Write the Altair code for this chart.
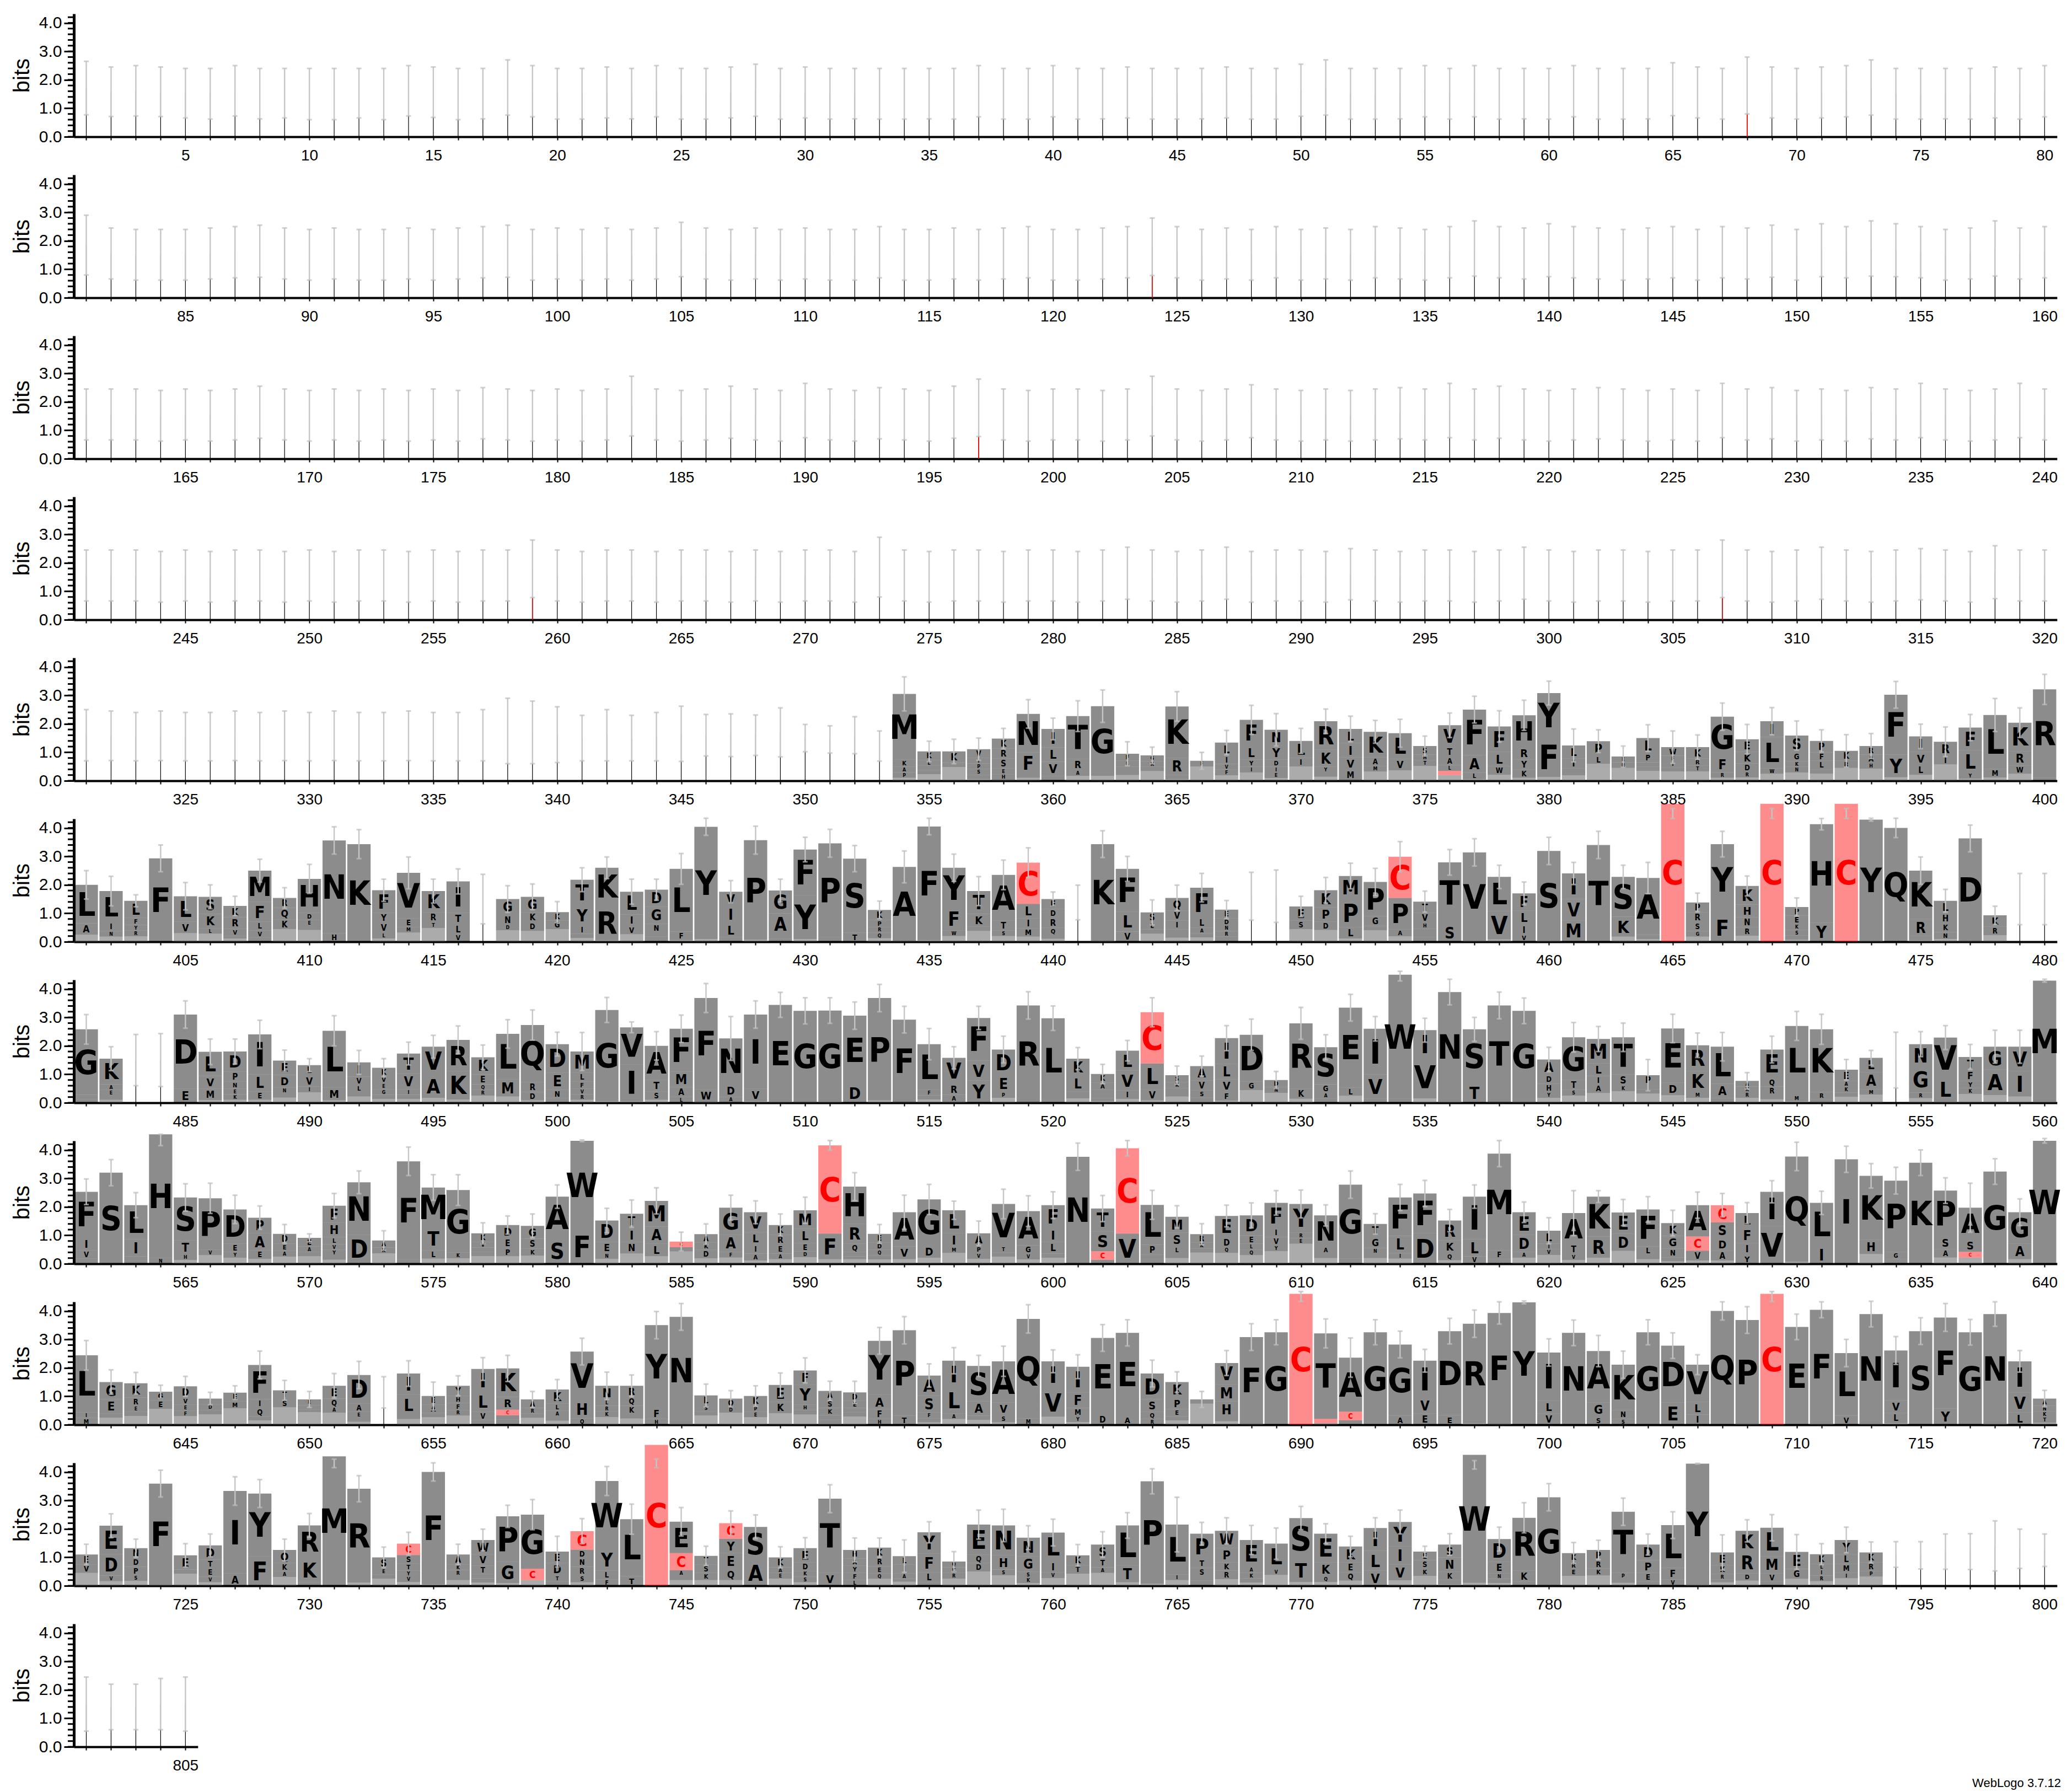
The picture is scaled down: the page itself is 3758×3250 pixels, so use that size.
import altair as alt
import pandas as pd

# ---------------- data ----------------
# positions 1-320: almost-empty columns (thin stacks) -> upper / lower error-bar ends
HI_1 = [2.65,2.45,2.5,2.45,2.4,2.4,2.5,2.4,2.4,2.4, 2.4,2.4,2.4,2.5,2.45,2.4,2.4,2.7,2.5,2.4,
        2.4,2.45,2.4,2.5,2.4,2.4,2.45,2.55,2.4,2.45, 2.4,2.4,2.4,2.4,2.4,2.4,2.5,2.4,2.4,2.5,
        2.4,2.4,2.45,2.4,2.4,2.4,2.45,2.4,2.4,2.55, 2.7,2.4,2.4,2.4,2.5,2.4,2.5,2.4,2.4,2.4,
        2.5,2.4,2.4,2.4,2.6,2.45,2.4,2.8,2.45,2.4, 2.45,2.5,2.7,2.4,2.4,2.4,2.4,2.45,2.4,2.5]
LO_1 = [0.77,0.71,0.73,0.71,0.66,0.62,0.73,0.63,0.66,0.6, 0.6,0.66,0.6,0.73,0.68,0.6,0.63,0.76,0.7,0.62,
        0.62,0.66,0.63,0.7,0.62,0.62,0.66,0.72,0.62,0.66, 0.62,0.63,0.62,0.62,0.63,0.62,0.7,0.62,0.62,0.7,
        0.62,0.63,0.66,0.62,0.62,0.63,0.66,0.62,0.62,0.72, 0.76,0.62,0.62,0.63,0.7,0.62,0.7,0.62,0.63,0.62,
        0.7,0.62,0.62,0.63,0.74,0.66,0.62,0.8,0.66,0.62, 0.66,0.7,0.76,0.62,0.62,0.63,0.62,0.66,0.62,0.7]
HI_2 = [2.9,2.45,2.4,2.4,2.4,2.45,2.5,2.55,2.45,2.4, 2.45,2.4,2.4,2.45,2.4,2.45,2.5,2.55,2.4,2.45,
        2.4,2.45,2.4,2.45,2.65,2.45,2.4,2.45,2.4,2.45, 2.4,2.4,2.5,2.4,2.4,2.45,2.4,2.45,2.5,2.4,
        2.4,2.45,2.5,2.8,2.5,2.4,2.45,2.4,2.5,2.4, 2.45,2.4,2.5,2.45,2.4,2.5,2.7,2.5,2.45,2.6,
        2.5,2.45,2.4,2.45,2.5,2.4,2.5,2.45,2.55,2.4, 2.6,2.5,2.7,2.6,2.5,2.4,2.45,2.7,2.45,2.5]
LO_2 = [0.8,0.66,0.62,0.62,0.62,0.66,0.7,0.72,0.66,0.62, 0.66,0.62,0.62,0.66,0.62,0.66,0.7,0.72,0.62,0.66,
        0.62,0.66,0.62,0.66,0.74,0.66,0.62,0.66,0.62,0.66, 0.62,0.62,0.7,0.62,0.62,0.66,0.62,0.66,0.7,0.62,
        0.62,0.66,0.7,0.78,0.7,0.62,0.66,0.62,0.7,0.62, 0.66,0.62,0.7,0.66,0.62,0.7,0.76,0.7,0.66,0.74,
        0.7,0.66,0.62,0.66,0.7,0.62,0.7,0.66,0.72,0.62, 0.74,0.7,0.76,0.74,0.7,0.62,0.66,0.76,0.66,0.7]
HI_3 = [2.45,2.45,2.45,2.4,2.45,2.4,2.45,2.55,2.45,2.4, 2.45,2.4,2.45,2.4,2.45,2.4,2.5,2.45,2.4,2.45,
        2.4,2.45,2.9,2.45,2.4,2.45,2.55,2.45,2.4,2.65, 2.45,2.4,2.5,2.45,2.4,2.55,2.8,2.45,2.4,2.45,
        2.45,2.4,2.45,2.9,2.45,2.4,2.45,2.6,2.45,2.4, 2.45,2.4,2.45,2.5,2.45,2.65,2.45,2.55,2.45,2.4,
        2.45,2.5,2.45,2.4,2.45,2.4,2.65,2.45,2.5,2.4, 2.45,2.4,2.5,2.45,2.65,2.45,2.4,2.45,2.65,2.45]
LO_3 = [0.66,0.66,0.66,0.62,0.66,0.62,0.66,0.72,0.66,0.62, 0.66,0.62,0.66,0.62,0.66,0.62,0.7,0.66,0.62,0.66,
        0.62,0.66,0.8,0.66,0.62,0.66,0.72,0.66,0.62,0.74, 0.66,0.62,0.7,0.66,0.62,0.72,0.78,0.66,0.62,0.66,
        0.66,0.62,0.66,0.8,0.66,0.62,0.66,0.74,0.66,0.62, 0.66,0.62,0.66,0.7,0.66,0.74,0.66,0.72,0.66,0.62,
        0.66,0.7,0.66,0.62,0.66,0.62,0.74,0.66,0.7,0.62, 0.66,0.62,0.7,0.66,0.74,0.66,0.62,0.66,0.74,0.66]
HI_4 = [2.45,2.45,2.45,2.4,2.45,2.4,2.45,2.45,2.4,2.45, 2.4,2.45,2.45,2.4,2.45,2.4,2.45,2.45,2.8,2.45,
        2.4,2.45,2.45,2.4,2.45,2.45,2.4,2.45,2.4,2.45, 2.45,2.4,2.9,2.45,2.4,2.45,2.45,2.4,2.45,2.45,
        2.4,2.45,2.55,2.45,2.4,2.45,2.55,2.4,2.45,2.45, 2.4,2.5,2.45,2.4,2.45,2.45,2.4,2.45,2.55,2.45,
        2.4,2.45,2.45,2.4,2.45,2.45,2.8,2.45,2.4,2.45, 2.55,2.45,2.4,2.45,2.5,2.45,2.4,2.6,2.45,2.45]
LO_4 = [0.66,0.66,0.66,0.62,0.66,0.62,0.66,0.66,0.62,0.66, 0.62,0.66,0.66,0.62,0.66,0.62,0.66,0.66,0.78,0.66,
        0.62,0.66,0.66,0.62,0.66,0.66,0.62,0.66,0.62,0.66, 0.66,0.62,0.8,0.66,0.62,0.66,0.66,0.62,0.66,0.66,
        0.62,0.66,0.72,0.66,0.62,0.66,0.72,0.62,0.66,0.66, 0.62,0.7,0.66,0.62,0.66,0.66,0.62,0.66,0.72,0.66,
        0.62,0.66,0.66,0.62,0.66,0.66,0.78,0.66,0.62,0.66, 0.72,0.66,0.62,0.66,0.7,0.66,0.62,0.74,0.66,0.66]
RED_THIN = {68: 0.9, 124: 0.85, 197: 0.85, 259: 0.8, 307: 0.8}

# positions 321-805: "letter height ..." (top to bottom, ~ = small mixed letters) / error top[,error bottom]
# "t<h>" = near-empty column drawn as a thin stack
LOGO_5 = [  # 321
 "t1.6/2.5","t1.58/2.45","t1.55/2.4","t1.58/2.45","t1.55/2.4","t1.55/2.4","t1.58/2.45","t1.55/2.4","t1.58/2.45","t1.55/2.4",
 "t1.58/2.45","t1.55/2.4","t1.55/2.4","t1.58/2.45","t1.55/2.4","t1.55/2.4","t1.6/2.5","t1.75/2.9","t1.7/2.8","t1.62/2.6",
 "t1.5/2.3","t1.6/2.5","t1.5/2.3","t1.55/2.4","t1.65/2.62","t1.6/2.33","t1.6/2.35","t1.6/2.31","t1.7/2.56","t1.5/1.98",
 # 351
 "t1.45/1.93","t1.6/2.25","t1.22/1.75","M2.3 K.25 A.2 P.2 ~.1/3.65","K.3 L.2 I.15 N.15 ~.23/1.39",
 "K.4 N.15 ~.48/1.46","V.3 I.2 P.2 S.2 T.15 ~.06/1.5","K.35 R.35 S.35 E.2 H.2 ~.03/1.84","N1.35 F.75 Y.15 ~.1/2.85","I.65 L.5 V.5 M.17/2.2",
 # 361
 "T1.5 R.4 A.2 ~.17/2.81","G2.45 ~.17/3.19","F.25 L.2 A.15 R.15 ~.2/1.37","G.2 R.2 A.15 ~.34/1.18","K1.8 R.6 Q.15 ~.06/3.13",
 "F.2 ~.5/1.0","L.45 I.3 V.2 F.2 ~.19/1.77","F.9 L.5 Y.25 I.2 ~.29/2.65","N.55 Y.5 D.25 I.2 E.2 ~.09/2.36","L.6 I.3 ~.5/1.84",
 # 371
 "R1.0 K.6 Y.2 W.15 ~.14/2.52","L.5 I.5 V.45 M.35 ~.02/2.27","K.9 A.3 M.2 ~.32/2.12","L.9 V.4 ~.37/2.16","S.3 H.2 T.2 ~.52/1.57",
 "V.75 T.35 A.3 L.2 C.15 ~.2/2.38","F1.6 A.6 L.25 ~.05/2.97","F.9 L.5 W.3 ~.21/2.46","H1.1 R.45 Y.35 K.3 ~.1/2.83","Y1.55 F1.4 ~.13/3.5",
 # 381
 "L.45 I.35 A.15 T.1 ~.19/1.82","P.5 L.3 ~.59/1.79","E.2 R.2 ~.45/1.22","L.55 P.3 V.15 M.15 ~.35/1.97","W.3 F.2 I.2 V.15 ~.33/1.75",
 "K.4 R.25 T.2 ~.33/1.61","G1.4 F.55 R.2 ~.1/2.73","E.45 K.4 D.3 R.2 ~.11/1.98","I.55 L1.1 W.2 ~.24/2.57","S.6 G.3 K.2 N.2 ~.29/2.1",
 # 391
 "P.4 F.3 L.3 T.15 ~.25/1.79","K.35 R.25 ~.45/1.62","R.3 A.3 H.2 ~.42/1.66","F2.1 Y.8 ~.12/3.49","I.55 V.45 L.35 ~.21/1.99",
 "R.5 I.3 ~.57/1.89","F.8 L.8 Y.2 ~.07/2.33","L1.9 M.3 ~.11/2.89","K1.0 R.5 W.3 ~.24/2.56","R3.1 K.11/3.74",
]
LOGO_6 = [  # 401
 "L1.35 A.4 ~.25/2.5","L1.1 I.3 N.2 ~.18/2.3","L.6 F.25 Y.2 R.2 ~.19/1.65","F2.93/3.4","L.9 V.4 ~.3/2.08",
 "S.6 K.5 L.2 ~.28/2.0","K.4 R.4 V.25 I.1 ~.11/1.6","M1.1 F.7 L.3 V.25 I.15/2.9","R.35 Q.4 K.35 ~.44/1.9","H1.2 D.25 E.2 R.15 ~.41/2.72",
 # 411
 "N3.26 H.3/4.04","K3.43/3.94","F.8 Y.35 V.35 L.2 ~.11/2.2","V1.6 E.3 M.2 ~.32/2.98","K.75 R.35 T.2 ~.48/2.2",
 "I1.1 T.4 L.35 V.27/2.56","t1.5/2.37","G.55 N.35 D.2 ~.4/1.97","G.55 K.35 D.3 ~.38/2.03","K.3 G.3 ~.44/1.41",
 # 421
 "T.9 Y.7 I.3 W.15 ~.13/2.6","K1.3 R1.25 ~.05/2.98","L.8 I.4 V.3 ~.26/2.2","D.6 G.6 N.3 Q.15 H.18/2.2","L2.2 F.3 ~.06/3.1",
 "Y3.95 ~.09/4.34","V.5 I.6 L.5 M.16/2.15","P3.5 ~.07/4.06","G.8 A.75 E.15 R.1/2.2","F1.6 Y1.55 ~.09/3.67",
 # 431
 "P3.3 G.16/3.95","S2.6 T.32/3.38","K.35 P.25 R.2 Q.2 ~.12/1.43","A2.6 ~.03/3.19","F4.0 ~.05/4.34",
 "Y1.4 F.8 W.2 ~.2/3.08","T.8 K.45 E.15 ~.38/2.29","A1.6 T.35 S.2 ~.2/2.87","C1.45 L.5 I.35 M.3 ~.18/3.3","E.35 D.3 R.35 Q.25 K.15 ~.1/1.75",
 # 441
 "t1.38/1.99","K3.4 ~.03/3.9","F1.5 L.7 V.36/3.0","S.35 L.25 M.15 ~.28/1.47","Q.45 V.35 I.3 R.15 T.15 ~.14/1.99",
 "F1.05 L.35 A.2 H.15 ~.15/2.4","E.3 D.25 N.2 R.2 S.18/1.45","t1.6/2.44","t1.6/2.52","E.5 S.3 ~.44/1.6",
 # 451
 "K.6 P.5 D.3 ~.41/2.26","M.8 P1.0 L.4 ~.11/2.76","P1.2 G.35 R.15 ~.4/2.58","C1.45 P1.1 A.25 ~.19/3.52","T.4 V.35 H.2 L.15 A.15 S.16/1.78",
 "T2.15 S.64/3.24","V3.1 ~.04/3.62","L1.2 V1.0 ~.08/2.69","F.6 L.5 I.35 V.25/2.1","S3.15 ~.04/3.67",
 # 461
 "I.9 V.75 M.75/2.79","T3.4/3.88","S1.4 K.7 ~.18/2.69","A2.0 G.15 ~.09/2.79","C4.85/4.68,4.33",
 "P.35 R.35 S.3 G.2 ~.18/1.71","Y2.5 F.9 ~.03/3.88","K.65 H.45 N.35 R.3 ~.21/2.31","C4.85/4.68,4.33","P.3 E.3 K.2 S.2 N.15 ~.07/1.54",
 # 471
 "H3.46 Y.67/4.33","C4.85/4.68,4.33","Y4.25 ~.04/4.34","Q4.0/4.34","K1.7 R.6 G.15 ~.05/2.98",
 "L.45 H.35 K.3 N.25 ~.09/1.84","D3.6 ~.03/4.1","K.4 R.3 ~.23/1.25","t1.5/2.4","t1.5/2.4",
]
LOGO_7 = [  # 481
 "G2.3 A.15 N.13/3.1","K.9 A.2 E.2 R.15 ~.1/1.97","t1.5/2.4","t1.5/2.43","D2.6 E.5/3.58",
 "L.85 V.45 M.4 ~.09/2.24","D.7 P.35 N.25 E.2 K.2 ~.1/2.24","I1.4 L.6 E.3 ~.1/2.9","E.5 D.45 N.2 A.15 ~.18/1.85","L.35 V.4 I.2 ~.37/1.55",
 # 491
 "L2.0 M.45 ~.08/3.06","I.5 V.3 L.25 K.15 ~.22/1.84","K.3 V.25 E.2 G.2 R.15 ~.13/1.55","T.7 V.55 I.2 A.15 ~.13/2.13","V1.0 A.8 ~.17/2.37",
 "R1.1 K1.0 ~.11/2.7","K.6 E.35 Q.2 R.2 ~.25/2.03","L1.6 M.6 ~.22/2.92","Q2.0 R.35 D.3 ~.08/3.26","D1.0 E.6 N.3 K.16/2.48",
 # 501
 "M.75 L.3 F.25 V.2 R.2 ~.1/2.47","G3.2 ~.06/3.7","V1.3 I1.3 ~.05/2.84","A1.2 T.4 S.3 ~.1/2.5","F1.5 M.55 A.35 L.2/3.08",
 "F3.2 W.45 ~.03/4.19","N1.6 D.45 A.2 ~.01/3.03","I2.6 V.45 ~.05/3.58","E3.4 ~.04/3.88","G3.2 ~.03/3.69",
 # 511
 "G3.2 ~.04/3.69","E2.4 D.66/3.54","P3.6 ~.08/4.16","F2.9 ~.02/3.39","L1.6 F.2 I.15 ~.11/2.61",
 "V.9 R.4 A.25 ~.03/1.97","F1.5 V.7 Y.78/3.39","D.9 E.6 P.2 ~.17/2.34","R3.4 ~.02/3.9","L2.97/3.4",
 # 521
 "K.6 L.55 E.15 I.1 ~.15/1.94","K.3 A.25 Q.15 R.15 D.1 ~.06/1.35","L.7 V.7 I.3 ~.13/2.19","C1.8 L.9 V.4 ~.08/3.69","S.25 K.2 E.15 R.15 ~.22/1.29",
 "A.5 V.35 S.25 E.15 ~.04/1.64","I.9 L.55 V.45 F.3 ~.07/2.71","D1.65 G.3 ~.44/2.94","D.25 N.2 ~.35/1.1","R2.3 K.35 ~.14/3.35",
 # 531
 "S1.3 G.3 A.2 R.15/2.39","E2.8 L.3 ~.24/3.81","I1.6 V.85 L.15/3.03","W4.35 L.15/4.62,4.28","I1.0 V1.3 M.1 ~.15/2.97",
 "N3.85 ~.04/4.34","S1.9 T.68/3.0","T3.4 ~.02/3.89","G3.2 ~.03/3.68","A.55 D.3 H.3 Y.2 ~.17/1.95",
 # 541
 "G1.5 T.35 S.2 ~.25/2.82","M.85 L.45 I.3 A.3 ~.34/2.68","T1.3 S.4 K.2 ~.4/2.8","P.35 L.15 K.15 ~.32/1.52","E1.9 D.45 ~.26/3.11",
 "R.9 K.75 M.2 ~.17/2.45","L1.3 A.5 I.15 ~.02/2.47","A.2 K.2 R.2 ~.17/1.06","E1.0 Q.3 R.3 K.15 ~.12/2.34","L2.45 M.2 ~.05/3.21",
 # 551
 "K2.2 R.25 A.1 ~.03/3.11","E.4 A.2 K.2 S.15 ~.21/1.52","L.5 A.6 M.2 ~.28/1.84","t1.5/2.48","N.8 G.9 R.2 ~.16/2.5",
 "V1.4 L.85 ~.04/2.71","T.45 F.4 Y.25 K.2 ~.31/2.05","G.8 A.9 ~.27/2.55","V.85 I.9 ~.22/2.55","M4.25 ~.04/4.34",
]
LOGO_8 = [  # 561
 "F1.6 I.45 V.3 S.18/2.98","S3.2/3.66","L1.2 I.6 M.16 Y.1/2.5","H4.35 N.2/4.55,4.15","S1.5 T.5 H.2 ~.13/2.81",
 "P1.8 V.2 ~.3/2.83","D1.2 E.3 Y.2 ~.21/2.41","P.55 A.6 E.3 ~.17/2.03","D.35 E.25 A.2 ~.25/1.38","E.3 A.2 K.15 ~.26/1.05",
 # 571
 "F.6 H.5 L.25 V.2 Y.2 I.15 ~.14/2.47","N1.85 D1.0 ~.01/3.26","A.25 R.2 ~.37/1.16","F3.45 L.15/4.1","M1.4 T.8 L.3 ~.18/3.13",
 "G2.2 K.2 ~.19/3.13","K.3 V.2 S.15 N.15 ~.27/1.44","D.45 E.35 P.3 ~.26/1.68","G.45 S.35 K.25 ~.28/1.75","A1.45 S.91/2.77",
 # 581
 "W3.12 F1.2/4.35","D.75 E.4 N.2 ~.17/1.95","T.5 I.5 N.4 ~.36/2.24","M.9 A.6 L.45 ~.26/2.67","C.2 E.15 ~.43/1.11",
 "A.3 K.25 D.3 ~.19/1.4","G.95 A.6 F.2 ~.22/2.41","V.7 L.45 I.3 A.25 ~.11/2.21","K.35 R.35 E.3 A.2 ~.16/1.75","M.65 L.5 E.3 D.2 ~.23/2.34",
 # 591
 "C3.1 F.9 ~.16/4.33","H1.3 R.7 Q.3 K.15 N.1 ~.16/3.2","E.3 D.25 Q.2 K.15 ~.15/1.38","A1.2 V.45 ~.16/2.41","G1.6 D.45 ~.21/2.79",
 "L.8 I.5 M.2 ~.38/2.2","A.45 P.25 V.2 ~.17/1.5","V1.5 T.2 A.15 ~.25/2.62","A1.2 G.3 V.2 ~.15/2.39","F.8 I.5 L.4 V.15 ~.21/2.53",
 # 601
 "N3.75 ~.01/4.24","T.8 S.7 C.3 A.14/2.4","C3.0 V1.06/4.33","L1.4 P.35 I.15 M.17/2.58","M.55 S.5 L.25 T.15 ~.2/2.04",
 "R.3 K.2 E.15 ~.39/1.41","E.75 D.35 Q.2 ~.38/2.06","D.7 E.3 L.2 Q.2 ~.3/2.14","F.9 I.3 V.3 Y.2 ~.44/2.57","Y1.0 R.2 E.2 ~.7/2.59",
 # 611
 "N1.1 A.25 S.15 ~.2/2.07","G2.6 S.18/3.26","T.45 G.4 N.2 R.15 ~.2/1.76","F1.35 L.6 I.2 ~.18/2.79","F1.4 D1.07/2.93",
 "R.7 K.45 Q.25 ~.12/1.91","I1.5 L.6 V.26/2.77","M3.4 F.3 L.17/4.33","E.8 D.6 A.2 ~.21/2.17","L.45 I.2 V.2 ~.31/1.62",
 # 621
 "A1.1 T.35 V.2 ~.13/2.57","K1.4 R.75 ~.21/2.57","E.75 D.6 ~.45/2.26","F1.3 L.3 W.15 ~.16/2.36","K.45 G.45 N.3 D.15 ~.08/1.88",
 "A1.1 C.5 V.35 ~.11/2.52","C.6 S.55 D.45 A.35 ~.11/2.47","L.5 F.55 I.4 Y.33/2.15","I1.2 V1.33/2.92","Q3.7 ~.07/4.27",
 # 631
 "L1.5 I.64/2.55","I3.67/4.13","K2.25 H.5 ~.34/3.52","P2.5 G.25 E.17/3.39","K3.55/4.0",
 "P1.6 S.45 A.3 ~.22/3.02","A1.1 S.45 C.2 ~.22/2.83","G3.24/3.69","G1.1 A.55 ~.16/2.28","W4.32/4.4",
]
LOGO_9 = [  # 641
 "L2.0 I.2 M.24/2.96","G.6 E.5 P.15 ~.25/1.93","K.5 R.3 E.2 S.15 ~.31/1.84","G.3 E.3 ~.56/1.39","D.4 V.25 E.2 F.2 ~.3/1.7",
 "I.2 D.2 E.15 ~.37/1.14","E.3 M.25 ~.58/1.37","F1.2 I.3 Q.3 E.15 ~.15/2.59","T.3 S.3 ~.61/1.56","E.2 P.15 A.1 ~.44/1.17",
 # 651
 "E.45 Q.3 A.2 ~.42/1.8","D1.0 A.3 E.2 K.15 ~.1/2.23","t1.14/1.69","I.75 L.7 V.15 ~.2/2.25","E.3 A.3 P.15 ~.26/1.5",
 "Y.35 H.25 F.25 R.2 ~.32/1.72","I.8 L.7 V.3 A.16/2.36","K1.0 R.45 C.2 V.15 E.18/2.44","A.3 R.2 M.15 ~.24/1.17","K.5 L.25 A.2 F.15 ~.14/1.59",
 # 661
 "V1.7 H.65 Q.22/3.04","N.5 L.2 R.2 K.2 ~.27/1.85","R.4 Q.3 K.3 E.15 ~.22/1.75","Y2.9 F.4 H.2/3.98","N3.75 ~.04/4.26",
 "L.35 S.2 N.15 ~.33/1.43","Q.3 D.2 ~.42/1.2","K.35 P.2 E.2 ~.26/1.37","E.6 K.4 ~.4/1.82","F.5 Y.7 H.2 K.15 ~.36/2.35",
 # 671
 "A.3 S.3 K.25 R.15 H.15 ~.04/1.53","D.3 E.25 G.15 K.15 ~.29/1.53","Y1.9 A.5 F.35 H.2/3.42","P3.0 T.32/3.8","A.7 S.6 F.2 I.15 ~.08/2.14",
 "I.95 L.9 A.2 ~.2/2.71","S1.25 A.5 T.15 ~.17/2.44","A1.45 V.45 S.25 ~.08/2.76","Q3.5 M.22/4.22","I.95 V1.0 ~.28/2.63",
 # 681
 "I.9 F.55 M.3 Y.2 ~.09/2.46","E2.7 D.35/3.52","E2.9 A.33/3.69","D.9 S.45 Q.25 R.2/2.27","K.55 P.4 E.25 S.15 ~.15/1.86",
 "E.15 ~.74/1.17","V.75 M.6 H.55 R.15 ~.12/2.61","F3.05 ~.03/3.55","G3.25/3.69","C4.6/4.68,4.33",
 # 691
 "T3.0 C.15 ~.06/3.72","A1.9 C.3 S.16/3.05","G3.25/3.69","G2.5 A.32/3.29","I1.3 V.55 E.4/2.65",
 "D2.95 E.34/3.74","R3.5 ~.05/4.03","F3.9 ~.03/4.32","Y4.3/4.35","I1.7 L.45 V.39/3.02",
 # 701
 "N3.23/3.68","A1.8 G.5 S.29/3.14","K1.6 N.3 S.21/2.59","G3.25/3.69","D2.0 E.78/3.23",
 "V1.3 L.45 I.36/2.46","Q4.0/4.32","P3.65 ~.03/4.15","C4.6/4.68,4.33","E3.44/3.89",
 # 711
 "F4.0 ~.04/4.32","L2.2 V.32/3.0","N3.85 ~.04/4.34","I1.75 V.45 L.35 ~.06/3.1","S3.29/3.76",
 "F3.2 Y.57/4.26","G3.25/3.7","N3.85 ~.04/4.32","I1.1 V.7 L.43/2.61","A.25 N.2 K.2 T.2 ~.07/1.21",
]
LOGO_10 = [  # 721
 "E.35 V.3 ~.45/1.46","E1.0 D.75 V.2 ~.16/2.53","N.35 D.3 P.3 S.2 ~.17/1.64","F3.55 ~.04/4.06","E.5 P.15 ~.42/1.48",
 "D.5 T.3 E.3 V.2 ~.12/1.82","I2.9 A.43/3.83","Y2.2 F1.04/3.73","Q.45 K.3 A.2 ~.31/1.64","R1.15 K.85 T.12/2.54",
 # 731
 "M4.55/4.45,4.15","R3.3 ~.11/3.87","S.4 E.2 K.15 ~.25/1.36","C.4 S.3 T.25 Y.2 V.2 ~.13/1.88","F3.95 ~.05/4.32",
 "A.35 K.2 R.2 P.15 ~.2/1.46","W.5 V.4 T.3 E.15 K.15 ~.11/1.99","P1.6 G.75 ~.09/2.83","G1.9 C.4 ~.2/3.03","E.4 D.45 T.2 S.15/1.74",
 # 741
 "C.65 D.3 N.3 R.3 S.25 ~.12/2.36","W2.4 Y.75 L.3 F.23/4.19","L2.0 T.34/2.87","C4.95/4.45,4.15","E1.1 C.6 A.2 D.15 ~.2/2.75",
 "T.3 S.3 K.25 ~.2/1.39","C.55 Y.5 E.55 Q.4 ~.2/2.63","S1.2 A.87/2.49","K.35 A.2 E.2 ~.25/1.37","E.5 D.3 K.2 S.2 ~.12/1.69",
 # 751
 "T2.6 V.46/3.55","H.3 A.25 Y.25 F.25 L.21/1.68","K.35 R.3 E.25 Q.2 ~.24/1.68","L.3 I.3 A.2 T.1 ~.14/1.61","Y.75 F.65 L.35 V.13/2.25",
 "Q.2 K.2 R.2 ~.25/1.2","E1.05 Q.3 D.3 ~.5/2.66","N1.05 H.5 S.2 ~.37/2.69","N.65 G.55 S.2 K.2 ~.09/2.11","L1.0 I.4 V.2 ~.27/2.34",
 # 761
 "K.35 T.3 ~.42/1.45","S.5 T.3 A.2 ~.45/1.9","L1.4 T.6 ~.12/2.57","P3.6 ~.07/4.11","L1.75 I.2 ~.2/3.11",
 "P.9 T.3 S.3 D.15 K.18/2.23","W.6 P.5 K.3 R.3 ~.23/2.39","E.95 A.2 K.2 T.15 ~.11/2.12","L.9 V.2 ~.38/2.03","S1.45 T.8 ~.13/2.79",
 # 771
 "E1.0 K.5 Q.2 ~.13/2.18","K.55 E.35 Q.3 ~.18/1.74","I.8 L.7 V.53/2.39","Y.85 I.65 V.55 ~.19/2.66","E.3 S.3 K.25 ~.35/1.39",
 "S.45 N.5 K.3 T.15 ~.05/1.83","W4.5 ~.1/4.4,4.1","D.8 E.4 N.2 K.15 ~.09/2.06","R1.85 K.4 F.14/2.92","G3.1 ~.01/3.59",
 # 781
 "K.3 R.25 E.25 ~.35/1.52","P.35 R.3 K.25 ~.36/1.6","T2.15 P.2 A.15 ~.1/3.08","D.55 P.45 E.3 K.15/1.82","L1.5 F.4 V.23/2.6",
 "Y4.25 ~.04/4.3","E.45 K.3 R.2 Q.1 ~.12/1.79","K.75 R.75 D.25 ~.18/2.32","L1.0 M.6 V.3 I.14/2.5","E.6 G.35 ~.24/1.8",
 # 791
 "K.35 L.2 I.2 R.2 ~.16/1.48","Y.5 L.35 M.3 I.2 ~.26/2.06","K.35 R.3 P.2 ~.32/1.54","t1.1/1.55","t1.07/1.55",
 "t1.2/1.82","t1.2/1.83","t1.4/2.28","t1.3/1.99","t1.25/1.82",
]
LOGO_11 = ["t1.5/2.45", "t1.4/2.2", "t1.4/2.2", "t1.5/2.4", "t1.5/2.45"]  # 801-805

# ---------------- build tables ----------------
PLOT_H = 223
YMAX = 4.32
PX_PER_BIT = PLOT_H / YMAX
COL_PX = 44.96

LOGO = LOGO_5 + LOGO_6 + LOGO_7 + LOGO_8 + LOGO_9 + LOGO_10 + LOGO_11
assert len(LOGO) == 485, len(LOGO)

segs, errs, thins = [], [], []
for hi_list, lo_list, start in [(HI_1, LO_1, 1), (HI_2, LO_2, 81), (HI_3, LO_3, 161), (HI_4, LO_4, 241)]:
    assert len(hi_list) == 80 and len(lo_list) == 80
    for i, (hi, lo) in enumerate(zip(hi_list, lo_list)):
        p = start + i
        h = (hi + lo) / 2
        thins.append(dict(pos=p, z=0.0, h=h, red=RED_THIN.get(p, 0.0)))
        errs.append(dict(pos=p, lo=lo, hi=hi))

for i, entry in enumerate(LOGO):
    p = 321 + i
    body, err = entry.split("/")
    ev = [float(v) for v in err.split(",")]
    toks = body.split()
    if toks[0].startswith("t"):
        h = float(toks[0][1:])
        thins.append(dict(pos=p, z=0.0, h=h, red=0.0))
        errs.append(dict(pos=p, lo=ev[1] if len(ev) > 1 else 2 * h - ev[0], hi=ev[0]))
        continue
    items = [(t[0], float(t[1:])) for t in toks]
    misc = [it for it in items if it[0] == "~"]
    lets = [it for it in items if it[0] != "~"]
    order = misc + lets[::-1]           # bottom to top
    y = 0.0
    for ch, hgt in order:
        col = "#444444" if ch == "~" else ("#ff0000" if ch == "C" else "#000000")
        px = hgt * PX_PER_BIT
        fs = min(px * 0.85, 60.0)
        segs.append(dict(pos=p, x0=p - 0.47, x1=p + 0.47, y0=y, y1=y + hgt, letter="" if ch == "~" else ch,
                         col=col, fs=fs, ty=y + (hgt - 0.72 * fs / PX_PER_BIT) / 2,
                         show=(ch != "~" and px >= 10)))
        y += hgt
    errs.append(dict(pos=p, lo=ev[1] if len(ev) > 1 else 2 * y - ev[0], hi=ev[0]))

SEG = pd.DataFrame(segs)
ERR = pd.DataFrame(errs)
THIN = pd.DataFrame(thins)
MINOR = pd.DataFrame({"v": [round(0.2 * k, 1) for k in range(22)]})

FONT = "Liberation Sans"
LETTER_FONT = "Liberation Sans Narrow, DejaVu Sans Condensed, Liberation Sans"


def row_chart(p0, n):
    xs = alt.Scale(domain=[p0 - 0.5, p0 + n - 0.5], nice=False, zero=False)
    ys = alt.Scale(domain=[0, YMAX], nice=False, zero=True)
    xaxis = alt.Axis(values=list(range(p0, p0 + n)),
                     labelExpr="datum.value % 5 == 0 ? '' + datum.value : ''",
                     title=None, tickSize=6, tickWidth=2, domainWidth=4, labelFontSize=28,
                     labelPadding=14, labelFont=FONT, grid=False, labelFlush=False,
                     domainColor="#000000", tickColor="#000000", labelColor="#000000")
    yaxis = alt.Axis(values=[0, 1, 2, 3, 4], format=".1f", title="bits", titleFontSize=40,
                     titleFontWeight="normal", titleFont=FONT, titlePadding=10, labelFontSize=30,
                     labelFont=FONT, tickSize=18, tickWidth=3, domainWidth=5, labelPadding=4, grid=False,
                     domainColor="#000000", tickColor="#000000", labelColor="#000000", titleColor="#000000")
    X = lambda f: alt.X(f, scale=xs, axis=xaxis)
    Y = lambda f: alt.Y(f, scale=ys, axis=yaxis)
    rng = (lambda d: d[(d.pos >= p0) & (d.pos < p0 + n)])
    seg = rng(SEG)
    err = rng(ERR)
    thin = rng(THIN)
    caps = pd.concat([err[["pos"]].assign(v=err.hi), err[["pos"]].assign(v=err.lo)])

    layers = []
    if len(seg):
        layers.append(alt.Chart(seg).mark_rect(opacity=0.45).encode(
            x=X("x0:Q"), x2="x1:Q", y=Y("y0:Q"), y2="y1:Q",
            color=alt.Color("col:N", scale=None)))
        txt = seg[seg.show]
        layers.append(alt.Chart(txt).mark_text(font=LETTER_FONT, fontWeight="bold", baseline="alphabetic",
                                               align="center").encode(
            x=X("pos:Q"), y=Y("ty:Q"), text="letter:N",
            size=alt.Size("fs:Q", scale=None),
            color=alt.Color("col:N", scale=None)))
    if len(thin):
        layers.append(alt.Chart(thin).mark_rule(color="#000000", strokeWidth=1.2).encode(
            x=X("pos:Q"), y=Y("z:Q"), y2="h:Q"))
        red = thin[thin.red > 0]
        if len(red):
            layers.append(alt.Chart(red).mark_rule(color="#ff0000", strokeWidth=1.6).encode(
                x=X("pos:Q"), y=Y("z:Q"), y2="red:Q"))
    layers.append(alt.Chart(err).mark_rule(color="#c6c6c6", strokeWidth=2.4).encode(
        x=X("pos:Q"), y=Y("lo:Q"), y2="hi:Q"))
    layers.append(alt.Chart(caps).mark_tick(color="#bdbdbd", thickness=3, size=9, orient="horizontal").encode(
        x=X("pos:Q"), y=Y("v:Q")))
    layers.append(alt.Chart(MINOR).mark_rule(color="#000000", strokeWidth=3).encode(
        x=alt.value(-11), x2=alt.value(0), y=Y("v:Q")))
    return alt.layer(*layers).properties(width=n * COL_PX, height=PLOT_H)


rows = [row_chart(80 * r + 1, 80) for r in range(10)] + [row_chart(801, 5)]

chart = alt.vconcat(*rows, spacing=69, bounds="flush").properties(
    padding={"left": 12, "top": 17, "right": 5, "bottom": 5},
    title=alt.TitleParams("WebLogo 3.7.12", orient="bottom", anchor="end", fontSize=22,
                          fontWeight="normal", font=FONT, offset=8, color="#000000"),
).configure_view(stroke=None)

chart.save("out.html", embed_options={"renderer": "svg", "actions": False})
